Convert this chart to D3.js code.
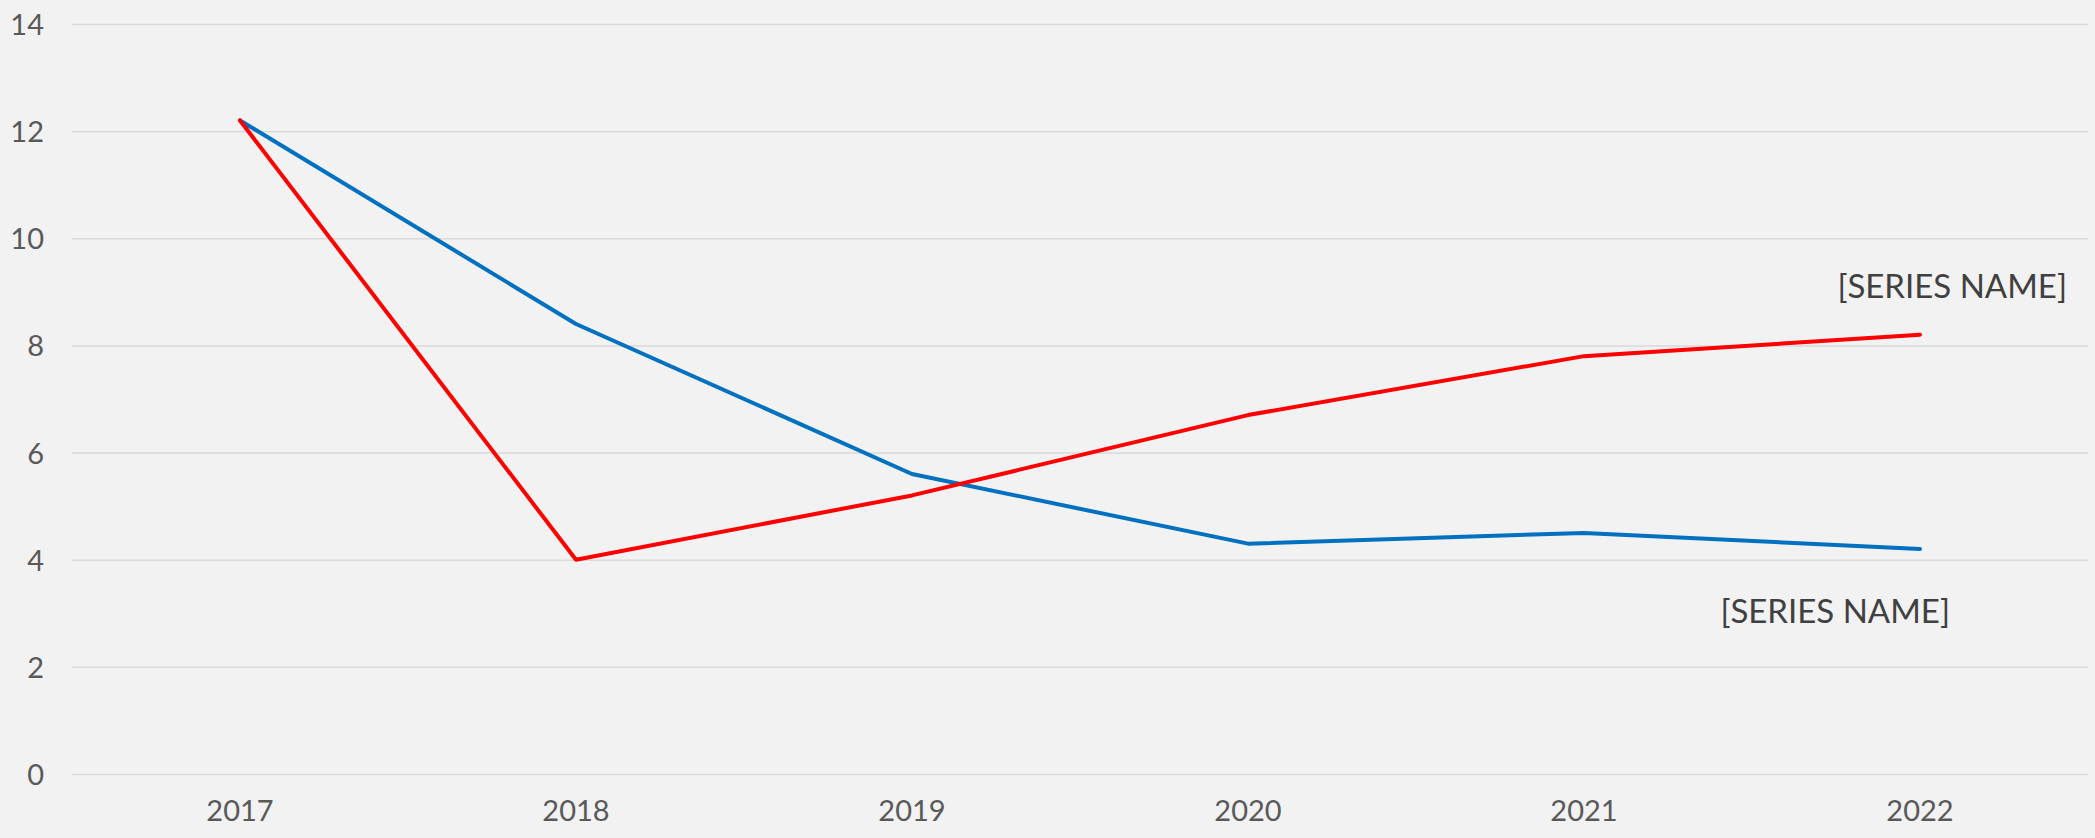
<!DOCTYPE html>
<meta charset="utf-8">
<html>
  <head>
    <title>Line chart</title>
    <style>
      html, body {
        margin: 0;
        padding: 0;
        background: #f2f2f2;
      }
      text {
        font-family: 'Gill Sans', 'Gill Sans MT', Lato, 'Open Sans', sans-serif;
      }
      .tick text {
        fill: #595959;
        font-size: 29px;
      }
      .series-label {
        fill: #404040;
        font-size: 33px;
      }
    </style>
  </head>
  <body>
    <svg xmlns="http://www.w3.org/2000/svg"></svg>

    <script src="https://d3js.org/d3.v7.min.js"></script>
    <script type="text/javascript">
      var width = 2095, height = 838;

      // data
      var years = ['2017', '2018', '2019', '2020', '2021', '2022'];
      var redValues = [12.2, 4.0, 5.2, 6.7, 7.8, 8.2];
      var blueValues = [12.2, 8.4, 5.6, 4.3, 4.5, 4.2];
      var yTicks = [0, 2, 4, 6, 8, 10, 12, 14];
      var seriesNames = ['[SERIES NAME]', '[SERIES NAME]'];

      var margin = {top: 24, right: 7, bottom: 64, left: 72};

      var svg = d3.select('svg')
        .attr('width', width)
        .attr('height', height);

      svg.append('rect')
        .attr('width', width)
        .attr('height', height)
        .attr('fill', '#f2f2f2');

      var x = d3.scaleBand()
        .domain(years)
        .range([margin.left, width - margin.right]);

      var y = d3.scaleLinear()
        .domain([0, 14])
        .range([height - margin.bottom, margin.top]);

      function cx(d) { return x(d) + x.bandwidth() / 2; }

      // gridlines + y labels
      var yAxis = svg.append('g')
        .attr('transform', 'translate(' + margin.left + ',0)')
        .call(d3.axisLeft(y)
          .tickValues(yTicks)
          .tickSize(-(width - margin.left - margin.right))
          .tickPadding(28));
      yAxis.select('.domain').remove();
      yAxis.selectAll('.tick line')
        .attr('stroke', '#d9d9d9')
        .attr('stroke-width', 1.5);
      yAxis.selectAll('.tick text')
        .attr('dy', '0.36em');

      // x labels
      var xAxis = svg.append('g')
        .attr('transform', 'translate(0,' + (height - margin.bottom) + ')')
        .call(d3.axisBottom(x).tickSize(0).tickPadding(26));
      xAxis.select('.domain').remove();

      var line = d3.line()
        .x(function(d, i) { return cx(years[i]); })
        .y(function(d) { return y(d); });

      // blue first so red sits on top, as in the original
      svg.append('path')
        .datum(blueValues)
        .attr('fill', 'none')
        .attr('stroke', '#0070c0')
        .attr('stroke-width', 4)
        .attr('stroke-linejoin', 'round')
        .attr('stroke-linecap', 'round')
        .attr('d', line);

      svg.append('path')
        .datum(redValues)
        .attr('fill', 'none')
        .attr('stroke', '#ff0000')
        .attr('stroke-width', 4)
        .attr('stroke-linejoin', 'round')
        .attr('stroke-linecap', 'round')
        .attr('d', line);

      // series labels near the last point
      var last = years.length - 1;
      svg.append('text')
        .attr('class', 'series-label')
        .attr('x', cx(years[last]) + 147)
        .attr('y', y(redValues[last]) - 37)
        .attr('text-anchor', 'end')
        .text(seriesNames[0]);

      svg.append('text')
        .attr('class', 'series-label')
        .attr('x', cx(years[last]) + 30)
        .attr('y', y(blueValues[last]) + 74)
        .attr('text-anchor', 'end')
        .text(seriesNames[1]);
    </script>
  </body>
</html>
